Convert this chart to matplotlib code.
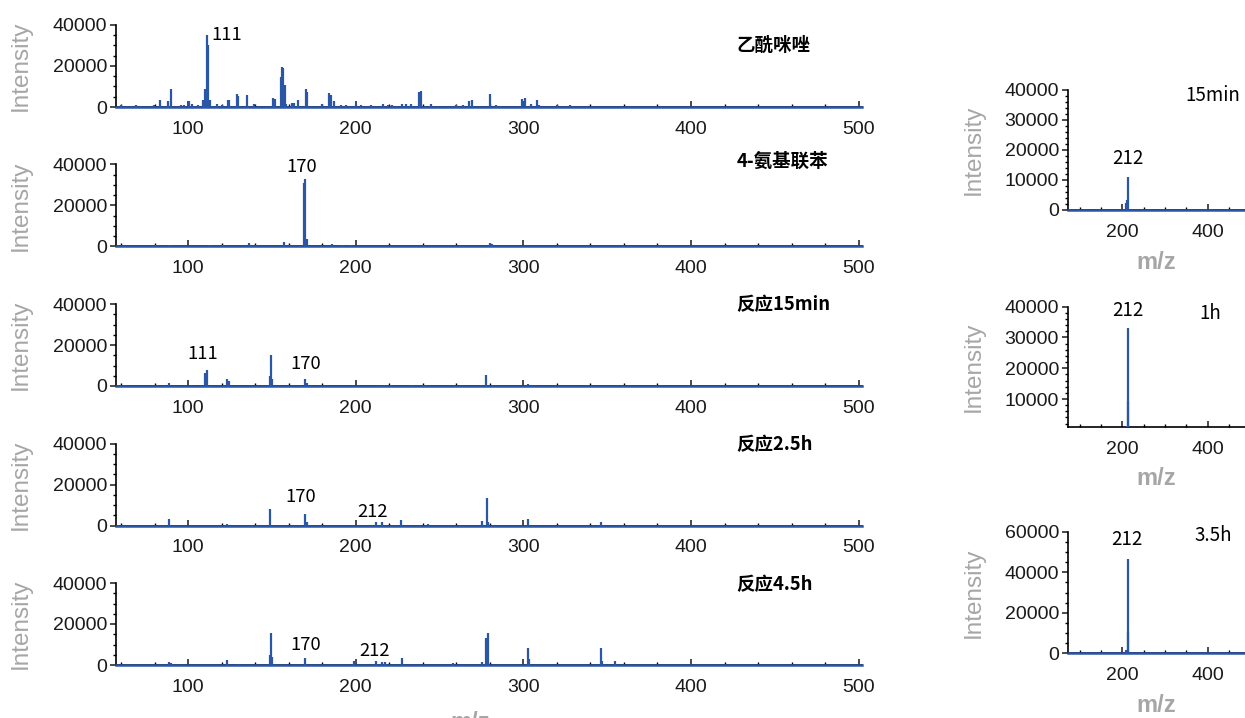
import numpy as np
import matplotlib.pyplot as plt
from matplotlib.ticker import MultipleLocator

# Peak lists (m/z, intensity) for the reference spectra
acetylimidazole_mz = [60, 69, 79.6, 83, 88, 89.7, 95.8, 97.4, 100.4, 102.4, 105.7, 109, 110, 111, 112,
                      113.3, 117.2, 120.2, 123.6, 124.6, 129.1, 130, 135, 139.4, 150.5, 151.7, 155.4,
                      156, 156.8, 157.6, 158.4, 161.8, 163.4, 165.7, 170.3, 171.1, 179.8, 184.2, 185.1,
                      186.9, 191.5, 194.1, 200.4, 203.4, 209.3, 216.2, 219.2, 221.8, 227.7, 230.1, 233.1,
                      238, 239, 245, 259.8, 264, 267.7, 269.1, 280.2, 283.6, 299.4, 300.8, 304.4, 308,
                      309.3, 320, 328]
acetylimidazole_int = [800, 800, 1000, 3300, 2800, 9000, 1000, 1000, 2800, 1600, 1000, 3600, 9000, 35000, 30200,
                       3600, 1600, 800, 3600, 3600, 6200, 5200, 5700, 1600, 4400, 4000, 14400,
                       19300, 18800, 10600, 1600, 2000, 2000, 3600, 9000, 7300, 1600, 7000, 5700,
                       2800, 800, 800, 1500, 1200, 800, 1500, 1200, 1200, 1500, 1500, 1500,
                       7300, 7800, 1500, 800, 1200, 2900, 3300, 6500, 800, 4000, 4600, 1600, 3300,
                       1000, 1000, 800]

aminobiphenyl_mz = [80.6, 89, 113, 120.6, 136.3, 140.6, 157, 160.6, 169, 170, 171, 185.7, 192, 197, 240, 280, 281]
aminobiphenyl_int = [800, 600, 600, 500, 1600, 600, 2400, 800, 31000, 33000, 3800, 1000, 500, 600, 500, 1600, 1000]

r15min_mz = [88.7, 110, 111, 123.5, 124.3, 148.9, 149.5, 150.3, 170, 170.8, 216.9, 220.9, 233.8, 240.8,
             275, 277.7, 303]
r15min_int = [1300, 6200, 7800, 3300, 2600, 4900, 15100, 3400, 3400, 1500, 600, 600, 600, 600,
              600, 5200, 800]

r25h_mz = [88.9, 123.4, 149.1, 170, 171, 212, 215.4, 226.9, 243.4, 275.4, 278.3, 279, 302.6, 346.3]
r25h_int = [3200, 500, 8100, 5600, 1600, 1600, 1600, 2900, 500, 2400, 13400, 1600, 3200, 1600]

r45h_mz = [88.7, 89.7, 123.5, 130, 148.9, 149.5, 150.3, 170, 199, 212, 215.9, 217.5, 227.8, 258.3, 275.1,
           278, 279, 303, 303.6, 346.3, 347, 354.7]
r45h_int = [1600, 1000, 2600, 600, 5000, 15500, 3700, 3200, 2100, 2100, 1600, 1600, 3200, 1000, 1600,
            13000, 15500, 8500, 2900, 8100, 2100, 1800]

# Product spectra (right column)
p15min_mz = [208, 210, 212]
p15min_int = [2200, 3300, 11100]
p1h_mz = [210, 212, 213]
p1h_int = [1200, 33200, 9200]
p35h_mz = [209, 212, 213]
p35h_int = [1600, 46400, 10700]

left_titles = ['乙酰咪唑', '4-氨基联苯', '反应15min', '反应2.5h', '反应4.5h']
left_spectra = [(acetylimidazole_mz, acetylimidazole_int), (aminobiphenyl_mz, aminobiphenyl_int),
                (r15min_mz, r15min_int), (r25h_mz, r25h_int), (r45h_mz, r45h_int)]
# peak labels: (text, m/z position, intensity position)
left_labels = [[('111', 114, 35000)],
               [('170', 167.5, 39000)],
               [('111', 109, 15600), ('170', 170, 10700)],
               [('170', 167, 14100), ('212', 210, 6800)],
               [('170', 170, 9800), ('212', 211.5, 6800)]]
left_title_y = [0.756, 1.04, 0.99, 0.99, 0.976]

right_spectra = [(p15min_mz, p15min_int), (p1h_mz, p1h_int), (p35h_mz, p35h_int)]
right_titles = [('15min', 413, 38300), ('1h', 406, 37950), ('3.5h', 413, 57900)]
right_peak_labels = [('212', 213, 17300), ('212', 213, 38700), ('212', 211, 56250)]

blue = '#2a56a8'
gray = '#a6a6a6'
tick_font = 'Liberation Sans'
cjk = ['Noto Sans CJK SC', 'DejaVu Sans']

plt.rcParams['font.family'] = tick_font
plt.rcParams['axes.linewidth'] = 1.2

W, H = 1245, 718
fig = plt.figure(figsize=(W / 100, H / 100), dpi=100)


def style_axes(ax):
    for s in ['top', 'right']:
        ax.spines[s].set_visible(False)
    ax.tick_params(axis='y', which='major', direction='out', length=4.5, width=1.1, pad=2,
                   labelsize=14, colors='#1a1a1a')
    ax.tick_params(axis='y', which='minor', direction='out', length=2.5, width=1.0)
    ax.tick_params(axis='x', which='major', direction='in', length=4.5, width=1.1, pad=10,
                   labelsize=14, colors='#1a1a1a')
    ax.tick_params(axis='x', which='minor', direction='in', length=2.5, width=1.0)
    ax.set_ylabel('Intensity', fontsize=17.5, color=gray)


def draw_spectrum(ax, mz, inten, baseline_outside=True):
    ax.axhline(0, color=blue, lw=1.8, zorder=3, clip_on=not baseline_outside)
    ax.vlines(mz, 0, inten, color=blue, lw=1.6, zorder=3)


# left column
for i, ((mz, inten), title) in enumerate(zip(left_spectra, left_titles)):
    bottom_px = 107 + 139.5 * i
    ax = fig.add_axes([116 / W, 1 - bottom_px / H, 746 / W, 82 / H])
    draw_spectrum(ax, mz, inten)
    ax.set_xlim(57, 502)
    ax.set_ylim(0, 40000)
    ax.set_yticks([0, 20000, 40000])
    ax.yaxis.set_minor_locator(MultipleLocator(5000))
    ax.set_xticks([100, 200, 300, 400, 500])
    ax.xaxis.set_minor_locator(MultipleLocator(20))
    style_axes(ax)
    ax.yaxis.set_label_coords(-0.113, 0.5)
    for txt, x, y in left_labels[i]:
        ax.text(x, y, txt, fontsize=13.3, family=cjk, ha='center' if i else 'left', va='center')
    ax.text(0.832, left_title_y[i], title, transform=ax.transAxes, fontsize=13.3,
            family=cjk, fontweight='bold', va='center')
    if i == 4:
        fig.text(470 / W, -0.006, 'm/z', fontsize=17, color=gray, fontweight='bold',
                 ha='center', va='center')

# right column
right_boxes = [(90, 210), (306.7, 426.7), (531.7, 653.3)]
for i, ((mz, inten), (top_px, bot_px)) in enumerate(zip(right_spectra, right_boxes)):
    ax = fig.add_axes([1068 / W, 1 - bot_px / H, 177 / W, (bot_px - top_px) / H])
    draw_spectrum(ax, mz, inten, baseline_outside=(i != 1))
    ax.set_xlim(72, 488)
    if i == 0:
        ax.set_ylim(0, 40000)
        ax.set_yticks(np.arange(0, 40001, 10000))
        ax.yaxis.set_minor_locator(MultipleLocator(2000))
    elif i == 1:
        ax.set_ylim(1000, 40000)
        ax.set_yticks(np.arange(10000, 40001, 10000))
        ax.yaxis.set_minor_locator(MultipleLocator(2000))
    else:
        ax.set_ylim(0, 60000)
        ax.set_yticks(np.arange(0, 60001, 20000))
        ax.yaxis.set_minor_locator(MultipleLocator(5000))
    ax.set_xticks([200, 400])
    ax.xaxis.set_minor_locator(MultipleLocator(50))
    style_axes(ax)
    ax.yaxis.set_label_coords(-0.47, 0.5)
    ax.set_xlabel('m/z', fontsize=17, color=gray, fontweight='bold', labelpad=7)
    t, x, y = right_titles[i]
    ax.text(x, y, t, fontsize=13.5, family=cjk, ha='center', va='center')
    t, x, y = right_peak_labels[i]
    ax.text(x, y, t, fontsize=13.5, family=cjk, ha='center', va='center')

fig.savefig('out.png', dpi=100)
